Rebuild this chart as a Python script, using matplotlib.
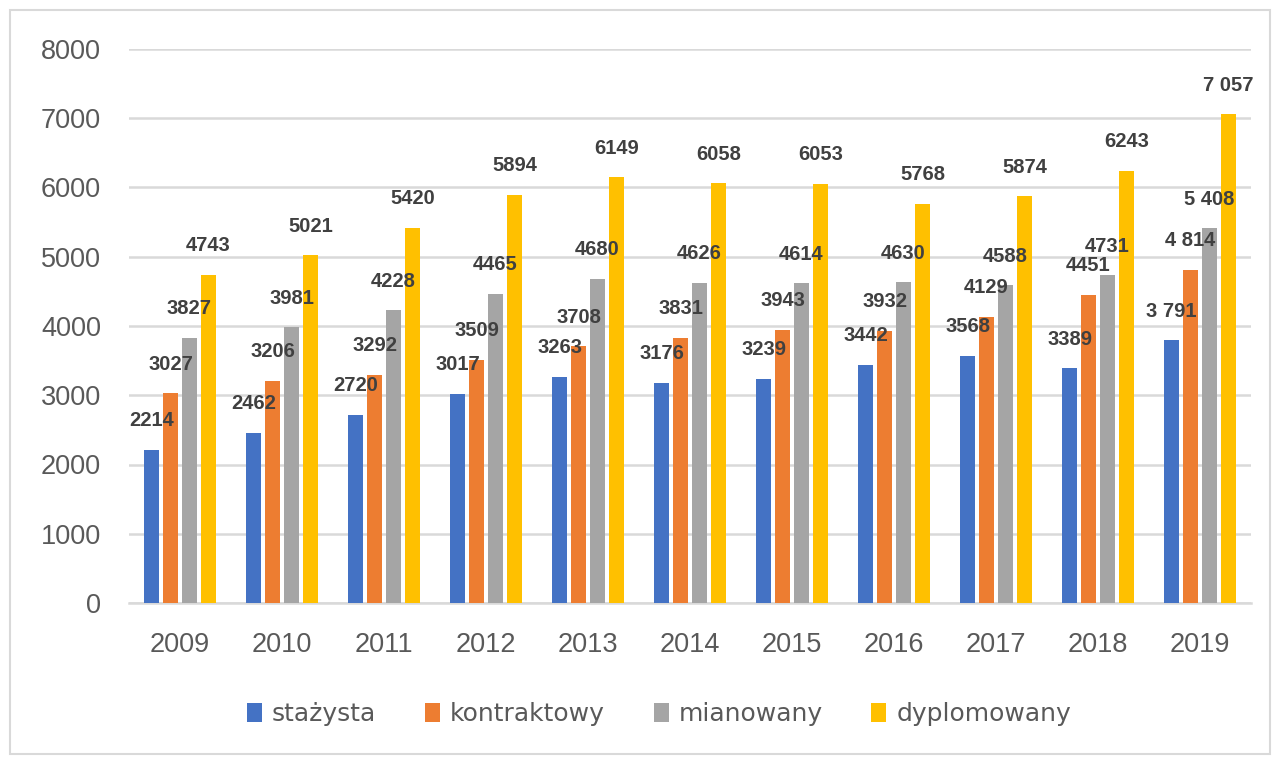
import numpy as np
import matplotlib.pyplot as plt
from matplotlib.patches import Rectangle

# rok
years = ["2009", "2010", "2011", "2012", "2013", "2014", "2015", "2016", "2017", "2018", "2019"]

# wynagrodzenia wg stopnia awansu
stazysta = [2214, 2462, 2720, 3017, 3263, 3176, 3239, 3442, 3568, 3389, 3791]
kontraktowy = [3027, 3206, 3292, 3509, 3708, 3831, 3943, 3932, 4129, 4451, 4814]
mianowany = [3827, 3981, 4228, 4465, 4680, 4626, 4614, 4630, 4588, 4731, 5408]
dyplomowany = [4743, 5021, 5420, 5894, 6149, 6058, 6053, 5768, 5874, 6243, 7057]

series_names = ["stażysta", "kontraktowy", "mianowany", "dyplomowany"]
colors = ["#4472C4", "#ED7D31", "#A5A5A5", "#FFC000"]


def fmt(v, year):
    # ostatni rok ma separator tysięcy w oryginale
    if year == "2019":
        return "{:,}".format(v).replace(",", " ")
    return str(v)


fig = plt.figure(figsize=(12.77, 7.58), dpi=100)
ax = fig.add_axes([129 / 1277, 1 - 603 / 758, 1122 / 1277, 554 / 758])

x = np.arange(len(years))
width = 0.148
step = 0.186
all_data = [stazysta, kontraktowy, mianowany, dyplomowany]

for i, (vals, name, c) in enumerate(zip(all_data, series_names, colors)):
    pos = x + (i - 1.5) * step
    ax.bar(pos, vals, width, color=c, label=name, zorder=3)
    for p, v, yr in zip(pos, vals, years):
        ax.annotate(fmt(v, yr), (p, v), xytext=(0, 21), textcoords="offset points",
                    ha="center", va="center", fontsize=14.5, fontweight="bold",
                    color="#404040", family="Liberation Sans", zorder=5)

ax.set_xlim(-0.5, len(years) - 0.5)
ax.set_ylim(0, 8000)
ax.set_yticks(range(0, 8001, 1000))
ax.set_xticks(x)
ax.set_xticklabels(years)
ax.tick_params(axis="both", length=0, labelsize=19.5, labelcolor="#595959")
ax.tick_params(axis="x", pad=21)
ax.tick_params(axis="y", pad=20)
for lab in ax.get_xticklabels() + ax.get_yticklabels():
    lab.set_family("Liberation Sans")
ax.grid(axis="y", color="#D9D9D9", linewidth=1.8, zorder=0)
for s in ["top", "right", "left"]:
    ax.spines[s].set_visible(False)
ax.spines["bottom"].set_color("#D9D9D9")
ax.spines["bottom"].set_linewidth(1.8)

fig.legend(loc="center", bbox_to_anchor=(659 / 1277, 1 - 714 / 758), ncol=4,
           frameon=False, prop={"family": "DejaVu Sans", "size": 18},
           labelcolor="#595959", handlelength=0.6, handleheight=0.8,
           handletextpad=0.4, columnspacing=1.95)

fig.patches.append(Rectangle((10 / 1277, 4 / 758), 1260 / 1277, 744 / 758,
                             transform=fig.transFigure, fill=False,
                             edgecolor="#D9D9D9", linewidth=1.5))

fig.savefig("out.png", dpi=100)
